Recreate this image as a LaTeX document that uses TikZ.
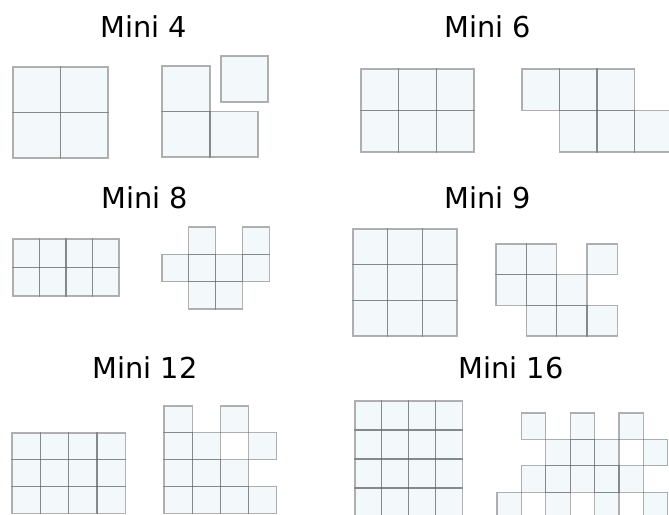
\documentclass[tikz,border=0pt]{standalone}
\usepackage{fontspec}
\newfontfamily\miniFont{DejaVu Sans}
\usetikzlibrary{positioning}
\definecolor{cellFill}{RGB}{243,249,251}
\definecolor{cellLine}{RGB}{100,100,100}
\tikzset{
    title/.style={font=\miniFont\fontsize{28.8}{34}\selectfont, anchor=base, inner sep=0pt},
    cellface/.style={fill=cellFill},
    cell/.style={draw=cellLine, draw opacity=0.5, line width=1.3pt}
}
% fill first, borders after, so shared edges come out darker
\newcommand\drawCells[1]{%
  \foreach \c/\r in {#1} \fill[cellface] (\c,\r) rectangle ++(1,1);
  \foreach \c/\r in {#1} \draw[cell] (\c,\r) rectangle ++(1,1);}
\newcommand\drawGrid[2]{%
  \fill[cellface] (0,0) rectangle (#1,#2);
  \foreach \c in {1,...,#1} \foreach \r in {1,...,#2}
    \draw[cell] (\c-1,\r-1) rectangle ++(1,1);}

\begin{document}
\begin{tikzpicture}[x=1pt, y=-1pt]
  \clip (0,0) rectangle (669,514);
  \fill[white] (0,0) rectangle (669,514);

  % titles
  \node[title] (miniFour)    at (144,37)  {Mini 4};
  \node[title] (miniSix)     at (488,37)  {Mini 6};
  \node[title] (miniEight)   at (145,208) {Mini 8};
  \node[title] (miniNine)    at (488,208) {Mini 9};
  \node[title] (miniTwelve)  at (145,378) {Mini 12};
  \node[title] (miniSixteen) at (511,378) {Mini 16};

  % Mini 4
  \begin{scope}[shift={(13,67)}, x=47.5pt, y=-45.5pt]
    \drawGrid{2}{2}
  \end{scope}
  \begin{scope}[shift={(162,66)}, x=48pt, y=-45.5pt]
    \drawCells{0/0,0/1,1/1}
  \end{scope}
  \fill[cellface] (221,56) rectangle (268,102);
  \draw[cell] (221,56) rectangle (268,102);

  % Mini 6
  \begin{scope}[shift={(361,69)}, x=37.7pt, y=-41.5pt]
    \drawGrid{3}{2}
  \end{scope}
  \begin{scope}[shift={(522,69)}, x=37.5pt, y=-41.5pt]
    \drawCells{0/0,1/0,2/0,1/1,2/1,3/1}
  \end{scope}

  % Mini 8
  \begin{scope}[shift={(13,239)}, x=26.5pt, y=-28.5pt]
    \drawGrid{4}{2}
  \end{scope}
  \begin{scope}[shift={(162,227)}, x=26.8pt, y=-27.3pt]
    \drawCells{1/0,3/0,0/1,1/1,2/1,3/1,1/2,2/2}
  \end{scope}

  % Mini 9
  \begin{scope}[shift={(353,229)}, x=34.7pt, y=-35.7pt]
    \drawGrid{3}{3}
  \end{scope}
  \begin{scope}[shift={(496,244)}, x=30.3pt, y=-30.7pt]
    \drawCells{0/0,1/0,3/0,0/1,1/1,2/1,1/2,2/2,3/2}
  \end{scope}

  % Mini 12
  \begin{scope}[shift={(12,433)}, x=28.3pt, y=-26.8pt]
    \drawGrid{4}{3}
  \end{scope}
  \begin{scope}[shift={(164,406)}, x=28.2pt, y=-26.8pt]
    \drawCells{0/0,2/0,0/1,1/1,3/1,0/2,1/2,2/2,0/3,1/3,2/3,3/3}
  \end{scope}

  % Mini 16
  \begin{scope}[shift={(355,401)}, x=26.8pt, y=-29pt]
    \drawGrid{4}{4}
  \end{scope}
  \begin{scope}[shift={(497,413)}, x=24.4pt, y=-26.4pt]
    \drawCells{1/0,3/0,5/0,2/1,3/1,4/1,6/1,1/2,2/2,3/2,4/2,5/2,0/3,2/3,4/3,6/3}
  \end{scope}
\end{tikzpicture}
\end{document}
